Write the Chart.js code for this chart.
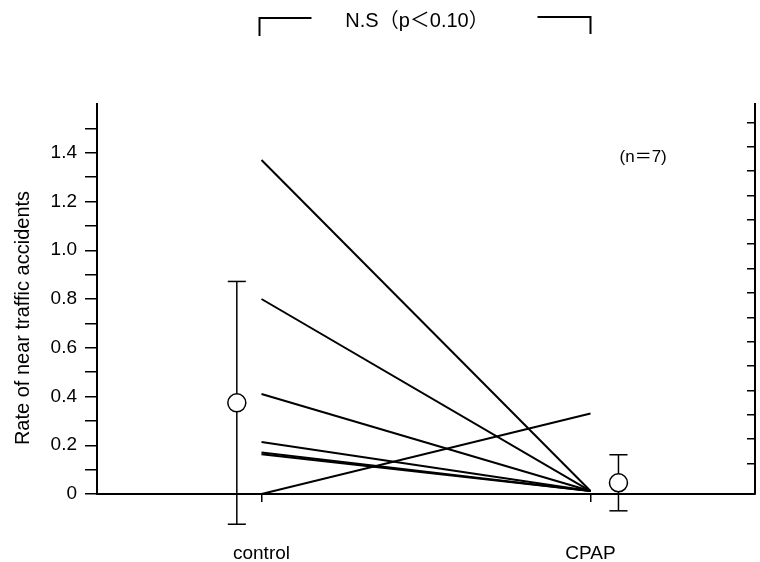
<!DOCTYPE html>
<html>
<head>
<meta charset="utf-8">
<script src="https://cdn.jsdelivr.net/npm/chart.js@4.4.1/dist/chart.umd.min.js"></script>
<style>
  html, body { margin: 0; padding: 0; background: #fff; }
</style>
</head>
<body>
<canvas id="myChart" width="760" height="562"></canvas>
<script>
// Categories and where they sit on the linear x scale
const categories = ['control', 'CPAP'];
const categoryX = [1, 3];

// Each patient (n=7): rate in the control period and under CPAP
const controlValues = [1.37, 0.80, 0.41, 0.213, 0.17, 0.163, 0];
const cpapValues = [0.012, 0.012, 0.012, 0.012, 0.012, 0.012, 0.33];

// Group mean and error bar, drawn beside each category
const meanX = [0.85, 3.17];
const meanValues = [0.374, 0.046];
const errorValues = [0.498, 0.115];

// Left axis ticks (every 0.1, labelled every 0.2)
const yTicks = [0, 0.1, 0.2, 0.3, 0.4, 0.5, 0.6, 0.7, 0.8, 0.9, 1.0, 1.1, 1.2, 1.3, 1.4, 1.5];
const yTickLabels = ['0', '', '0.2', '', '0.4', '', '0.6', '', '0.8', '', '1.0', '', '1.2', '', '1.4', ''];
// Right axis ticks, no labels
const rightTicks = [0.1, 0.2, 0.3, 0.4, 0.5, 0.6, 0.7, 0.8, 0.9, 1.0, 1.1, 1.2, 1.3, 1.4, 1.5];

const yTitle = 'Rate of near traffic accidents';
const sigText = 'N.S（p＜0.10）';
const nText = '(n＝7)';

const FONT = '"Liberation Sans", Arial, "Noto Sans CJK JP", sans-serif';
Chart.defaults.font.family = FONT;
Chart.defaults.color = '#000';

const ctx = document.getElementById('myChart').getContext('2d');

// build the datasets from the arrays above
const datasets = [];
controlValues.forEach((v, i) => {
    datasets.push({
        data: [{ x: categoryX[0], y: v }, { x: categoryX[1], y: cpapValues[i] }],
        showLine: true,
        borderColor: '#000',
        borderWidth: 2,
        pointRadius: 0,
        order: 3
    });
});

const capHalf = 0.055;
meanX.forEach((x, i) => {
    const lo = meanValues[i] - errorValues[i];
    const hi = meanValues[i] + errorValues[i];
    const bar = { showLine: true, borderColor: '#000', borderWidth: 1.5, pointRadius: 0, clip: false, order: 2 };
    datasets.push(Object.assign({ data: [{ x: x, y: lo }, { x: x, y: hi }] }, bar));
    datasets.push(Object.assign({ data: [{ x: x - capHalf, y: lo }, { x: x + capHalf, y: lo }] }, bar));
    datasets.push(Object.assign({ data: [{ x: x - capHalf, y: hi }, { x: x + capHalf, y: hi }] }, bar));
});

datasets.push({
    data: meanX.map((x, i) => ({ x: x, y: meanValues[i] })),
    pointRadius: 9,
    pointBackgroundColor: '#fff',
    pointBorderColor: '#000',
    pointBorderWidth: 1.5,
    clip: false,
    order: 1
});

// bracket, significance text, n and the y title
const annotations = {
    id: 'annotations',
    afterDraw(chart) {
        const c = chart.ctx;
        const x = chart.scales.x;
        const y = chart.scales.y;
        c.save();
        c.strokeStyle = '#000';
        c.fillStyle = '#000';
        c.lineWidth = 2;
        const left = x.getPixelForValue(categoryX[0]) - 2;
        const right = x.getPixelForValue(categoryX[1]);
        c.beginPath();
        c.moveTo(left, 36);
        c.lineTo(left, 18);
        c.lineTo(left + 52, 18);
        c.moveTo(right - 53, 17);
        c.lineTo(right, 17);
        c.lineTo(right, 34);
        c.stroke();

        c.textAlign = 'center';
        c.textBaseline = 'middle';
        c.font = '20px ' + FONT;
        c.fillText(sigText, (left + right) / 2 - 8, 21);

        c.font = '17px ' + FONT;
        c.fillText(nText, x.getPixelForValue(3.32), y.getPixelForValue(1.38));

        c.translate(23, (y.top + y.bottom) / 2 + 19);
        c.rotate(-Math.PI / 2);
        c.font = '20px ' + FONT;
        c.fillText(yTitle, 0, 0);
        c.restore();
    }
};

// keep the axes at fixed sizes and drop the label padding chart.js adds
function fixSize(prop, size) {
    return s => {
        s[prop] = size;
        s.paddingLeft = s.paddingRight = s.paddingTop = s.paddingBottom = 0;
    };
}

new Chart(ctx, {
    type: 'scatter',
    data: { datasets: datasets },
    options: {
        responsive: false,
        animation: false,
        layout: { autoPadding: false, padding: { top: 104, right: 0, bottom: 0, left: 0 } },
        plugins: {
            legend: { display: false },
            tooltip: { enabled: false }
        },
        scales: {
            x: {
                type: 'linear',
                position: 'bottom',
                min: 0,
                max: 4,
                afterBuildTicks: s => { s.ticks = categoryX.map(v => ({ value: v })); },
                afterFit: fixSize('height', 68),
                ticks: {
                    callback: (v, i) => categories[i],
                    autoSkip: false,
                    maxRotation: 0,
                    padding: 40,
                    font: { size: 19 }
                },
                grid: { drawOnChartArea: false, tickLength: 8, color: '#000', lineWidth: 1.5 },
                border: { color: '#000', width: 2 }
            },
            y: {
                position: 'left',
                min: 0,
                max: 1.6,
                afterBuildTicks: s => { s.ticks = yTicks.map(v => ({ value: v })); },
                afterFit: fixSize('width', 97),
                ticks: {
                    callback: (v, i) => yTickLabels[i],
                    autoSkip: false,
                    padding: 8,
                    font: { size: 19 }
                },
                grid: { drawOnChartArea: false, tickLength: 12, color: '#000', lineWidth: 1.5 },
                border: { color: '#000', width: 2 }
            },
            y2: {
                position: 'right',
                min: -0.025,
                max: 1.575,
                afterBuildTicks: s => { s.ticks = rightTicks.map(v => ({ value: v })); },
                afterFit: fixSize('width', 5),
                ticks: { display: false },
                grid: { drawOnChartArea: false, tickLength: -8, color: '#000', lineWidth: 1.5 },
                border: { color: '#000', width: 2 }
            }
        }
    },
    plugins: [annotations]
});
</script>
</body>
</html>
